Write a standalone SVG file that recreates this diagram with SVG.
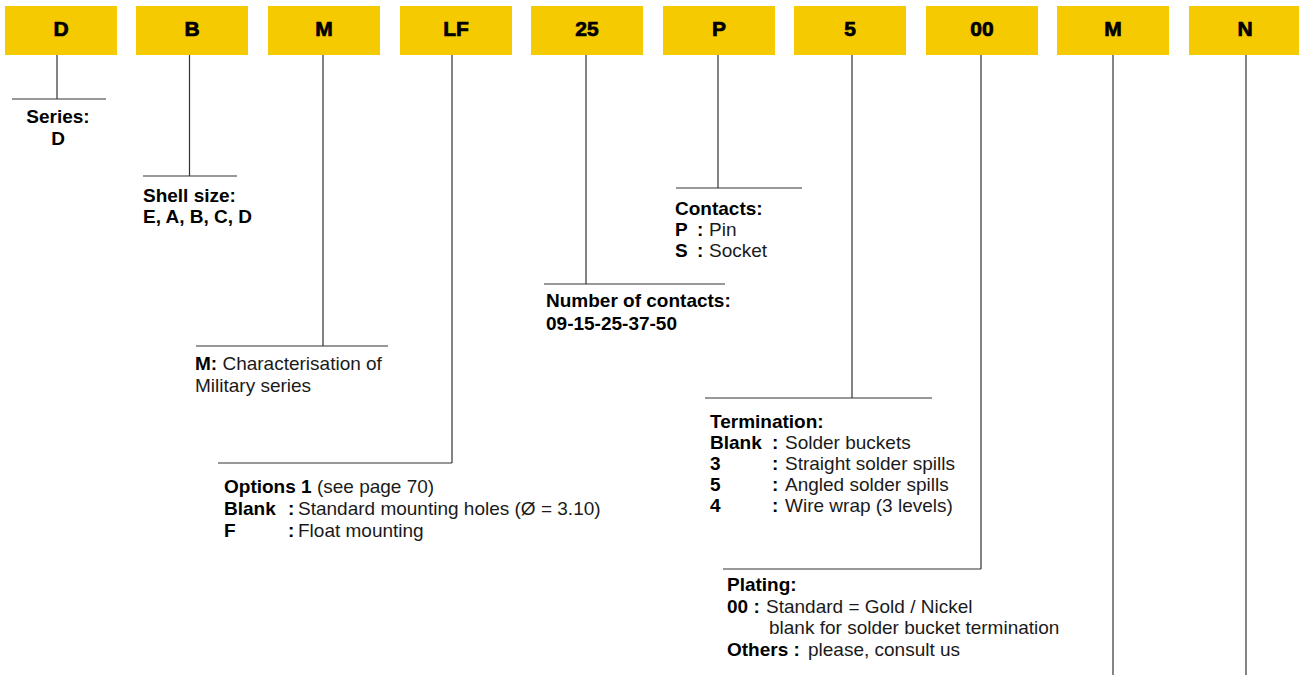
<svg xmlns="http://www.w3.org/2000/svg" width="1299" height="675" viewBox="0 0 1299 675">
<style>
.box{fill:#F6CA00}
.bl{font-family:"Liberation Sans",Arial,sans-serif;font-weight:bold;font-size:21px;fill:#000;text-anchor:middle;stroke:#000;stroke-width:0.7}
.ln{stroke:#333;stroke-width:1.2;fill:none}
.t{font-family:"Liberation Sans",Arial,sans-serif;font-size:19px;fill:#1a1a1a}
.b{font-weight:bold;fill:#000}
</style>
<rect width="1299" height="675" fill="#fff"/>
<g id="box-D"><rect class="box" x="5" y="6" width="112" height="49"/><text class="bl" x="61" y="36">D</text></g>
<g id="box-B"><rect class="box" x="136" y="6" width="112" height="49"/><text class="bl" x="192" y="36">B</text></g>
<g id="box-M"><rect class="box" x="268" y="6" width="112" height="49"/><text class="bl" x="324" y="36">M</text></g>
<g id="box-LF"><rect class="box" x="400" y="6" width="112" height="49"/><text class="bl" x="456" y="36">LF</text></g>
<g id="box-25"><rect class="box" x="531" y="6" width="112" height="49"/><text class="bl" x="587" y="36">25</text></g>
<g id="box-P"><rect class="box" x="663" y="6" width="112" height="49"/><text class="bl" x="719" y="36">P</text></g>
<g id="box-5"><rect class="box" x="794" y="6" width="112" height="49"/><text class="bl" x="850" y="36">5</text></g>
<g id="box-00"><rect class="box" x="926" y="6" width="112" height="49"/><text class="bl" x="982" y="36">00</text></g>
<g id="box-M2"><rect class="box" x="1057" y="6" width="112" height="49"/><text class="bl" x="1113" y="36">M</text></g>
<g id="box-N"><rect class="box" x="1189" y="6" width="112" height="49"/><text class="bl" x="1245" y="36">N</text></g>
<g id="connectors">
<path class="ln" d="M57 55V99M12 99H106"/>
<path class="ln" d="M189.5 55V176M143 176H237"/>
<path class="ln" d="M323 55V346M196 346H388"/>
<path class="ln" d="M452 55V463M218 463H452"/>
<path class="ln" d="M586 55V284M544 284H725"/>
<path class="ln" d="M718 55V188M676 188H802"/>
<path class="ln" d="M852 55V398M705 398H932"/>
<path class="ln" d="M981 55V569M723 569H981"/>
<path class="ln" d="M1113 55V675"/>
<path class="ln" d="M1246 55V675"/>
</g>
<g id="label-series">
<text class="t b" x="58" y="122.5" text-anchor="middle">Series:</text>
<text class="t b" x="58" y="145" text-anchor="middle">D</text>
</g>
<g id="label-shell">
<text class="t b" x="143" y="202">Shell size:</text>
<text class="t b" x="143" y="223">E, A, B, C, D</text>
</g>
<g id="label-military">
<text class="t" x="195" y="370"><tspan class="b">M:</tspan> Characterisation of</text>
<text class="t" x="195" y="392">Military series</text>
</g>
<g id="label-options">
<text class="t" x="224" y="493"><tspan class="b">Options 1</tspan> (see page 70)</text>
<text class="t" x="224" y="515"><tspan class="b">Blank</tspan><tspan class="b" x="288">:</tspan><tspan x="298">Standard mounting holes (Ø = 3.10)</tspan></text>
<text class="t" x="224" y="537"><tspan class="b">F</tspan><tspan class="b" x="288">:</tspan><tspan x="298">Float mounting</tspan></text>
</g>
<g id="label-number">
<text class="t b" x="546" y="307">Number of contacts:</text>
<text class="t b" x="546" y="330">09-15-25-37-50</text>
</g>
<g id="label-contacts">
<text class="t b" x="675" y="215">Contacts:</text>
<text class="t" x="675" y="236"><tspan class="b">P</tspan><tspan class="b" x="697">:</tspan><tspan x="709">Pin</tspan></text>
<text class="t" x="675" y="257"><tspan class="b">S</tspan><tspan class="b" x="697">:</tspan><tspan x="709">Socket</tspan></text>
</g>
<g id="label-termination">
<text class="t b" x="710" y="428">Termination:</text>
<text class="t" x="710" y="449"><tspan class="b">Blank</tspan><tspan class="b" x="772">:</tspan><tspan x="785">Solder buckets</tspan></text>
<text class="t" x="710" y="470"><tspan class="b">3</tspan><tspan class="b" x="772">:</tspan><tspan x="785">Straight solder spills</tspan></text>
<text class="t" x="710" y="491"><tspan class="b">5</tspan><tspan class="b" x="772">:</tspan><tspan x="785">Angled solder spills</tspan></text>
<text class="t" x="710" y="512"><tspan class="b">4</tspan><tspan class="b" x="772">:</tspan><tspan x="785">Wire wrap (3 levels)</tspan></text>
</g>
<g id="label-plating">
<text class="t b" x="727" y="591">Plating:</text>
<text class="t" x="727" y="612.5"><tspan class="b">00 :</tspan><tspan x="766">Standard = Gold / Nickel</tspan></text>
<text class="t" x="769" y="634">blank for solder bucket termination</text>
<text class="t" x="727" y="655.5"><tspan class="b">Others :</tspan><tspan x="808">please, consult us</tspan></text>
</g>
</svg>
